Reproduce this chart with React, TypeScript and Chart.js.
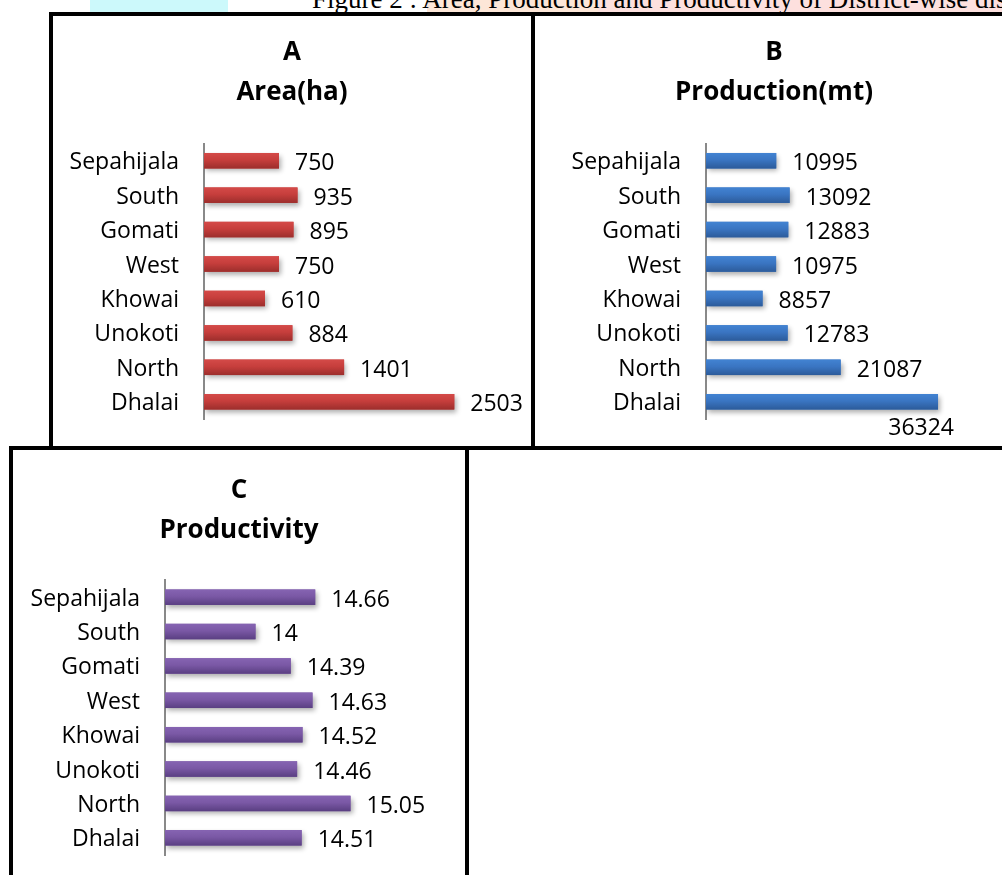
import React, { useEffect, useRef } from "react";
import { Chart, registerables } from "chart.js";

Chart.register(...registerables);

// ---------- data ----------
const districts = ["Sepahijala", "South", "Gomati", "West", "Khowai", "Unokoti", "North", "Dhalai"];
const areaHa = [750, 935, 895, 750, 610, 884, 1401, 2503];
const productionMt = [10995, 13092, 12883, 10975, 8857, 12783, 21087, 36324];
const productivity = [14.66, 14, 14.39, 14.63, 14.52, 14.46, 15.05, 14.51];

const areaTitle = ["A", "Area(ha)"];
const productionTitle = ["B", "Production(mt)"];
const productivityTitle = ["C", "Productivity"];
const figureCaption = "Figure 2 : Area, Production and Productivity of District-wise dis";

const areaAxis = { min: 0, max: 3000 };
const productionAxis = { min: 0, max: 40000 };
const productivityAxis = { min: 13, max: 16 };

const FONT = "'Open Sans', Lato, sans-serif";
const TICK_SIZE = 23;
const TITLE_SIZE = 26;

type PanelProps = {
  labels: string[];
  values: number[];
  title: string[];
  min: number;
  max: number;
  colors: [string, string, string];
  width: number;
  height: number;
  padRight: number;
  plotLeft: number;
  plotTop: number;
  titleY: number[];
  padBottom: number;
};

function Panel(p: PanelProps) {
  const ref = useRef<HTMLCanvasElement | null>(null);
  useEffect(() => {
    if (!ref.current) return;
    const colors = p.colors;
    const panelPlugin = {
      id: "panelStyle",
      beforeDatasetsDraw(chart: any) {
        const ctx = chart.ctx;
        ctx.save();
        ctx.shadowColor = "rgba(0,0,0,0.32)";
        ctx.shadowBlur = 5;
        ctx.shadowOffsetX = 2;
        ctx.shadowOffsetY = 3;
      },
      afterDatasetsDraw(chart: any) {
        const ctx = chart.ctx;
        ctx.restore();
        const meta = chart.getDatasetMeta(0);
        meta.data.forEach((el: any) => {
          const b = el.getProps(["x", "y", "base", "height"], true);
          const top = b.y - b.height / 2;
          const g = ctx.createLinearGradient(0, top, 0, top + b.height);
          g.addColorStop(0, colors[0]);
          g.addColorStop(0.45, colors[1]);
          g.addColorStop(1, colors[2]);
          ctx.fillStyle = g;
          ctx.fillRect(Math.min(b.base, b.x), top, Math.abs(b.x - b.base), b.height);
        });
        ctx.save();
        ctx.font = `${TICK_SIZE}px ${FONT}`;
        ctx.fillStyle = "#000";
        ctx.textBaseline = "middle";
        ctx.textAlign = "left";
        const data = chart.data.datasets[0].data;
        meta.data.forEach((el: any, i: number) => {
          const b = el.getProps(["x", "y"], true);
          const text = String(data[i]);
          const w = ctx.measureText(text).width;
          let x = b.x + 16;
          let y = b.y + 3;
          if (x + w > chart.width - 2) {
            x = b.x + 16 - w;
            y = b.y + 27;
          }
          ctx.fillText(text, x, y);
        });
        ctx.restore();
      },
      afterDraw(chart: any) {
        const ctx = chart.ctx;
        ctx.save();
        ctx.font = `bold ${TITLE_SIZE}px ${FONT}`;
        ctx.fillStyle = "#000";
        ctx.textAlign = "center";
        ctx.textBaseline = "middle";
        p.title.forEach((line, i) => ctx.fillText(line, chart.width / 2, p.titleY[i]));
        ctx.restore();
      },
    };
    const chart = new Chart(ref.current, {
      type: "bar",
      data: {
        labels: p.labels,
        datasets: [
          {
            data: p.values,
            base: p.min,
            backgroundColor: colors[1],
            barPercentage: 0.45,
            categoryPercentage: 1,
          },
        ],
      },
      options: {
        indexAxis: "y",
        responsive: false,
        animation: false,
        layout: { padding: { left: 0, right: p.padRight, top: p.plotTop, bottom: p.padBottom } },
        plugins: {
          legend: { display: false },
          tooltip: { enabled: false },
          title: { display: false },
        },
        scales: {
          x: { type: "linear", min: p.min, max: p.max, display: false },
          y: {
            grid: { display: false, drawTicks: false },
            border: { display: true, color: "#898989", width: 2 },
            ticks: {
              color: "#000",
              font: { family: FONT, size: TICK_SIZE },
              padding: 25,
              labelOffset: 2,
              autoSkip: false,
            },
            afterFit: (scale: any) => {
              scale.width = p.plotLeft;
              scale.paddingTop = 0;
              scale.paddingBottom = 0;
            },
          },
        },
      } as any,
      plugins: [panelPlugin as any],
    });
    return () => chart.destroy();
  }, []);
  return <canvas ref={ref} width={p.width} height={p.height} style={{ width: p.width, height: p.height, display: "block" }} />;
}

const boxStyle = (left: number, top: number, width: number, height: number): React.CSSProperties => ({
  position: "absolute",
  left,
  top,
  width,
  height,
  border: "4px solid #000",
  boxSizing: "border-box",
  background: "#fff",
  overflow: "hidden",
});

export default function App() {
  return (
    <div
      style={{
        position: "absolute",
        left: 0,
        top: 0,
        width: 1002,
        height: 875,
        overflow: "hidden",
        background: "#fff",
      }}
    >
      <div style={{ position: "absolute", left: 90, top: 0, width: 138, height: 12, background: "#ccf9fb" }} />
      <div style={{ position: "absolute", left: 427, top: 0, width: 171, height: 12, background: "#fde6d7" }} />
      <div style={{ position: "absolute", left: 598, top: 0, width: 404, height: 12, background: "#fde0de" }} />
      <div
        style={{
          position: "absolute",
          left: 312,
          top: -14,
          fontFamily: "'Liberation Serif', 'Times New Roman', serif",
          fontSize: 27,
          lineHeight: "27px",
          whiteSpace: "nowrap",
          color: "#000",
        }}
      >
        {figureCaption}
      </div>

      <div style={boxStyle(49, 12, 486, 438)}>
        <Panel
          labels={districts}
          values={areaHa}
          title={areaTitle}
          min={areaAxis.min}
          max={areaAxis.max}
          colors={["#d44a48", "#c63e3c", "#9c2e2c"]}
          width={478}
          height={430}
          padRight={27}
          plotLeft={151}
          plotTop={127.5}
          titleY={[37, 77]}
          padBottom={27}
        />
      </div>

      <div style={boxStyle(531, 12, 486, 438)}>
        <Panel
          labels={districts}
          values={productionMt}
          title={productionTitle}
          min={productionAxis.min}
          max={productionAxis.max}
          colors={["#4283d2", "#3a75c2", "#2c5b9a"]}
          width={478}
          height={430}
          padRight={51.5}
          plotLeft={171}
          plotTop={127.5}
          titleY={[37, 77]}
          padBottom={27}
        />
      </div>

      <div style={boxStyle(9, 446, 460, 460)}>
        <Panel
          labels={districts}
          values={productivity}
          title={productivityTitle}
          min={productivityAxis.min}
          max={productivityAxis.max}
          colors={["#8664b2", "#7a58a5", "#5a3f82"]}
          width={452}
          height={425}
          padRight={28.5}
          plotLeft={152}
          plotTop={130}
          titleY={[41, 81]}
          padBottom={20}
        />
      </div>
    </div>
  );
}
